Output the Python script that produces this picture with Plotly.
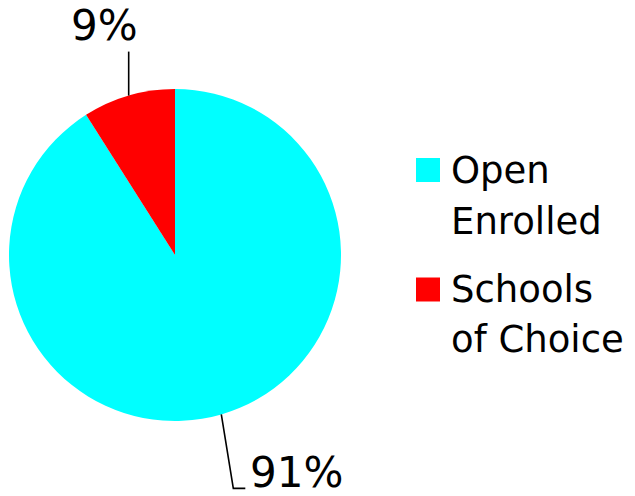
import math
import plotly.graph_objects as go

# ---- data ----
labels = ["Open Enrolled", "Schools of Choice"]
legend_lines = [["Open", "Enrolled"], ["Schools", "of Choice"]]
values = [91, 9]
colors = ["#00FFFF", "#FF0000"]

W, H = 635, 496
CX, CY, R = 175, 255, 166  # pie centre / radius in pixels
FONT = "DejaVu Sans"

def px(x):
    return x / W

def py(y):
    return 1 - y / H

fig = go.Figure()
fig.add_trace(go.Pie(
    labels=labels, values=values, sort=False, direction="clockwise", rotation=0,
    marker=dict(colors=colors, line=dict(width=0)),
    textinfo="none", showlegend=False, hoverinfo="label+percent",
    domain=dict(x=[px(CX - R), px(CX + R)], y=[py(CY + R), py(CY - R)]),
))

total = sum(values)
cum = 0
mids = []
for v in values:
    frac = (cum + v / 2) / total
    th = 2 * math.pi * frac
    mids.append((CX + R * math.sin(th), CY - R * math.cos(th)))
    cum += v

# label placement (pixel offsets from the slice-midpoint on the rim)
label_style = [
    dict(path=[(0, 0), (12, 74), (24, 74)], text=(75, 58)),
    dict(path=[(0, 0), (0, -44)], text=(-24, -70)),
]

shapes = []
annotations = []
for (mx, my), v, st in zip(mids, values, label_style):
    pts = [(mx + dx, my + dy) for dx, dy in st["path"]]
    d = "M " + " L ".join(f"{px(x)},{py(y)}" for x, y in pts)
    shapes.append(dict(type="path", path=d, xref="paper", yref="paper",
                       line=dict(color="black", width=1.6)))
    pct = round(100 * v / total)
    annotations.append(dict(
        x=px(mx + st["text"][0]), y=py(my + st["text"][1]),
        xref="paper", yref="paper", text=f"{pct}%", showarrow=False,
        xanchor="center", yanchor="middle",
        font=dict(family=FONT, size=42, color="black")))

# manual legend
leg_sq_y = [170, 289.5]
leg_line_y = [[170.5, 221.5], [289.5, 339.5]]
for c, lines, sy, ys in zip(colors, legend_lines, leg_sq_y, leg_line_y):
    shapes.append(dict(type="rect", xref="paper", yref="paper",
                       x0=px(416), x1=px(440), y0=py(sy + 12), y1=py(sy - 12),
                       fillcolor=c, line=dict(width=0)))
    for t, ty in zip(lines, ys):
        annotations.append(dict(
            x=px(449), y=py(ty), xref="paper", yref="paper", text=t,
            showarrow=False, xanchor="left", yanchor="middle", align="left",
            font=dict(family=FONT, size=37, color="black")))

fig.update_layout(
    width=W, height=H, margin=dict(l=0, r=0, t=0, b=0),
    paper_bgcolor="white", plot_bgcolor="white",
    shapes=shapes, annotations=annotations, showlegend=False,
)

fig.write_html("out.html")
